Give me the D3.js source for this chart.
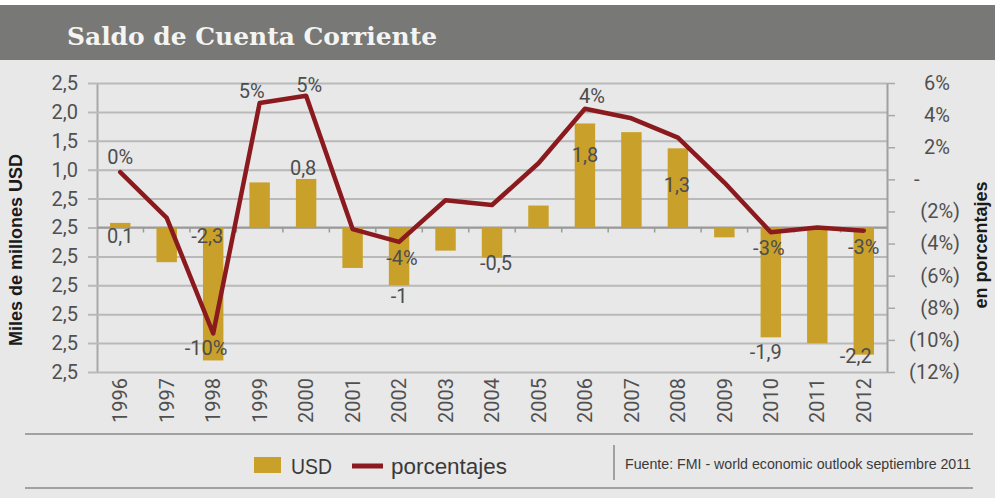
<!DOCTYPE html>
<html>
<head>
<meta charset="utf-8">
<script src="https://cdn.jsdelivr.net/npm/d3@7"></script>
<style>
  body { margin: 0; background: #fff; }
  svg text { font-family: Roboto, "Liberation Sans", sans-serif; }
</style>
</head>
<body>
<svg id="chart"></svg>
<script>
// datos
var years = ["1996","1997","1998","1999","2000","2001","2002","2003","2004","2005","2006","2007","2008","2009","2010","2011","2012"];
var usd = [0.08, -0.6, -2.3, 0.78, 0.84, -0.7, -1.0, -0.4, -0.52, 0.38, 1.8, 1.65, 1.37, -0.17, -1.9, -2.0, -2.2];
var porcentajes = [0.45, -2.4, -9.6, 4.75, 5.2, -3.1, -3.9, -1.3, -1.6, 1.0, 4.4, 3.8, 2.6, -0.2, -3.3, -3.0, -3.2];

var leftTicks = [2.5, 2.0, 1.5, 1.0, 0.5, 0, -0.5, -1.0, -1.5, -2.0, -2.5];
var leftTickLabels = ["2,5","2,0","1,5","1,0","2,5","2,5","2,5","2,5","2,5","2,5","2,5"];
var rightTicks = [6, 4, 2, 0, -2, -4, -6, -8, -10, -12];
var rightTickLabels = ["6%","4%","2%","-","(2%)","(4%)","(6%)","(8%)","(10%)","(12%)"];

var usdLabelYears = ["1996","1998","2000","2002","2004","2006","2008","2010","2012"];
var usdLabelText = ["0,1","-2,3","0,8","-1","-0,5","1,8","1,3","-1,9","-2,2"];
var pctLabelYears = ["1996","1998","1999","2000","2002","2006","2010","2012"];
var pctLabelText = ["0%","-10%","5%","5%","-4%","4%","-3%","-3%"];

// label placement (offsets from the mark)
var usdLabelPos = {
  "1996": {dx: 0, base: "zero", dy: 15},
  "1998": {dx: -6, base: "zero", dy: 15},
  "2000": {dx: -3, base: "value", dy: -4},
  "2002": {dx: 0, base: "value", dy: 18},
  "2004": {dx: 4, base: "value", dy: 12},
  "2006": {dx: 0, base: "value", dy: 39},
  "2008": {dx: -1, base: "value", dy: 44},
  "2010": {dx: -5, base: "value", dy: 22},
  "2012": {dx: -8, base: "value", dy: 8}
};
var pctLabelPos = {
  "1996": {dx: 0, dy: -8},
  "1998": {dx: -7, dy: 22},
  "1999": {dx: -8, dy: -5},
  "2000": {dx: 3, dy: -4},
  "2002": {dx: 3, dy: 23},
  "2006": {dx: 7, dy: -6},
  "2010": {dx: -2, dy: 23},
  "2012": {dx: 0, dy: 23}
};

var width = 1003, height = 498;
var plotLeft = 97, plotRight = 887, plotTop = 83, plotBottom = 372;

var svg = d3.select("#chart")
  .attr("width", width)
  .attr("height", height);

// fondo
svg.append("rect").attr("x", 0).attr("y", 5).attr("width", 995).attr("height", height - 5)
  .attr("fill", "#e8e8e8");
svg.append("rect").attr("x", 0).attr("y", 5).attr("width", 995).attr("height", 55)
  .attr("fill", "#787876");
svg.append("text")
  .attr("x", 67).attr("y", 45)
  .attr("textLength", 370).attr("lengthAdjust", "spacingAndGlyphs")
  .style("font-family", "'DejaVu Serif', 'Liberation Serif', serif")
  .style("font-weight", "bold")
  .style("font-size", "25px")
  .attr("fill", "#f4f4f2")
  .text("Saldo de Cuenta Corriente");

var x = d3.scaleBand().domain(years).range([plotLeft, plotRight]).padding(0);
var yL = d3.scaleLinear().domain([-2.5, 2.5]).range([plotBottom, plotTop]);
var yR = d3.scaleLinear().domain([-12, 6]).range([plotBottom, plotTop]);
var barW = x.bandwidth() * 0.44;

// eje izquierdo + grid
var gl = svg.append("g")
  .attr("transform", `translate(${plotLeft},0)`)
  .call(d3.axisLeft(yL)
    .tickValues(leftTicks)
    .tickFormat((d, i) => leftTickLabels[i])
    .tickSizeInner(-(plotRight - plotLeft))
    .tickSizeOuter(0)
    .tickPadding(19));
gl.select(".domain").attr("stroke", "#a8a8a8").attr("stroke-width", 2);
gl.selectAll(".tick line").attr("x1", -9).attr("stroke", "#b9b9b9").attr("stroke-width", 2);
gl.selectAll(".tick text")
  .attr("fill", "#505050")
  .style("font-size", "20px");

// eje derecho
var gr = svg.append("g")
  .attr("transform", `translate(${plotRight},0)`)
  .call(d3.axisRight(yR)
    .tickValues(rightTicks)
    .tickFormat((d, i) => rightTickLabels[i])
    .tickSizeInner(8)
    .tickSizeOuter(0)
    .tickPadding(10));
gr.select(".domain").attr("stroke", "#a0a0a0").attr("stroke-width", 2);
gr.selectAll(".tick line").attr("stroke", "#a8a8a8").attr("stroke-width", 1.5);
gr.selectAll(".tick text")
  .attr("fill", "#505050")
  .style("font-size", "20px")
  .attr("text-anchor", d => d === 0 ? "start" : "end")
  .attr("x", d => d > 0 ? 63 : (d === 0 ? 27 : 73));

// linea cero con marcas
svg.append("line")
  .attr("x1", plotLeft).attr("x2", plotRight)
  .attr("y1", yL(0)).attr("y2", yL(0))
  .attr("stroke", "#9a9a9a").attr("stroke-width", 2);
svg.append("g").selectAll("line")
  .data(years.slice(1))
  .join("line")
  .attr("x1", d => x(d)).attr("x2", d => x(d))
  .attr("y1", yL(0)).attr("y2", yL(0) + 5)
  .attr("stroke", "#9a9a9a").attr("stroke-width", 1.5);

// barras
svg.append("g").selectAll("rect")
  .data(years.map((d, i) => [d, usd[i]]))
  .join("rect")
  .attr("x", d => x(d[0]) + x.bandwidth() / 2 - barW / 2)
  .attr("y", d => Math.min(yL(d[1]), yL(0)))
  .attr("width", barW)
  .attr("height", d => Math.abs(yL(d[1]) - yL(0)))
  .attr("fill", "#c9a12a");

// linea porcentajes
var line = d3.line()
  .x((d, i) => x(years[i]) + x.bandwidth() / 2)
  .y(d => yR(d));
svg.append("path")
  .datum(porcentajes)
  .attr("d", line)
  .attr("fill", "none")
  .attr("stroke", "#8b1a1e")
  .attr("stroke-width", 4.5)
  .attr("stroke-linejoin", "round")
  .attr("stroke-linecap", "round");

// etiquetas USD
svg.append("g").selectAll("text")
  .data(usdLabelYears)
  .join("text")
  .attr("x", d => x(d) + x.bandwidth() / 2 + usdLabelPos[d].dx)
  .attr("y", d => {
    var p = usdLabelPos[d];
    var v = usd[years.indexOf(d)];
    return (p.base === "zero" ? yL(0) : yL(v)) + p.dy;
  })
  .attr("text-anchor", "middle")
  .attr("fill", "#4d4d4d")
  .style("font-size", "20px")
  .text((d, i) => usdLabelText[i]);

// etiquetas porcentajes
svg.append("g").selectAll("text")
  .data(pctLabelYears)
  .join("text")
  .attr("x", d => x(d) + x.bandwidth() / 2 + pctLabelPos[d].dx)
  .attr("y", d => yR(porcentajes[years.indexOf(d)]) + pctLabelPos[d].dy)
  .attr("text-anchor", "middle")
  .attr("fill", "#4d4d4d")
  .style("font-size", "20px")
  .text((d, i) => pctLabelText[i]);

// eje x
var gx = svg.append("g")
  .attr("transform", `translate(0,${plotBottom})`)
  .call(d3.axisBottom(x).tickSize(0).tickPadding(0));
gx.select(".domain").remove();
gx.selectAll(".tick text")
  .attr("transform", "rotate(-90)")
  .attr("text-anchor", "end")
  .attr("x", -6)
  .attr("y", 0)
  .attr("dy", "0.36em")
  .attr("fill", "#505050")
  .style("font-size", "20px");

// titulos de ejes
svg.append("text")
  .attr("transform", "translate(22,250) rotate(-90)")
  .attr("text-anchor", "middle")
  .style("font-family", "'Liberation Sans', Arial, sans-serif")
  .style("font-weight", "bold")
  .style("font-size", "18px")
  .attr("fill", "#1a1a1a")
  .text("Miles de millones USD");
svg.append("text")
  .attr("transform", "translate(987,245) rotate(-90)")
  .attr("text-anchor", "middle")
  .style("font-family", "'Liberation Sans', Arial, sans-serif")
  .style("font-weight", "bold")
  .style("font-size", "18px")
  .attr("fill", "#1a1a1a")
  .text("en porcentajes");

// separadores
svg.append("line").attr("x1", 25).attr("x2", 973).attr("y1", 434).attr("y2", 434)
  .attr("stroke", "#8a8a8a").attr("stroke-width", 1.5);
svg.append("line").attr("x1", 25).attr("x2", 973).attr("y1", 488).attr("y2", 488)
  .attr("stroke", "#8a8a8a").attr("stroke-width", 1.5);
svg.append("line").attr("x1", 614).attr("x2", 614).attr("y1", 445).attr("y2", 480)
  .attr("stroke", "#8a8a8a").attr("stroke-width", 1.5);

// leyenda
var legend = svg.append("g");
legend.append("rect").attr("x", 254).attr("y", 457).attr("width", 27).attr("height", 16)
  .attr("fill", "#c9a12a");
legend.append("text").attr("x", 291).attr("y", 474)
  .attr("textLength", 41).attr("lengthAdjust", "spacingAndGlyphs")
  .style("font-family", "'Liberation Sans Narrow', 'Liberation Sans', sans-serif")
  .style("font-size", "22px").attr("fill", "#3a3a3a")
  .text("USD");
legend.append("line").attr("x1", 352).attr("x2", 383).attr("y1", 466).attr("y2", 466)
  .attr("stroke", "#8b1a1e").attr("stroke-width", 5);
legend.append("text").attr("x", 391).attr("y", 474)
  .attr("textLength", 116).attr("lengthAdjust", "spacingAndGlyphs")
  .style("font-family", "'Liberation Sans Narrow', 'Liberation Sans', sans-serif")
  .style("font-size", "22px").attr("fill", "#3a3a3a")
  .text("porcentajes");
svg.append("text").attr("x", 625).attr("y", 469)
  .attr("textLength", 346).attr("lengthAdjust", "spacingAndGlyphs")
  .style("font-family", "'Liberation Sans Narrow', 'Liberation Sans', sans-serif")
  .style("font-size", "14px").attr("fill", "#3a3a3a")
  .text("Fuente: FMI - world economic outlook septiembre 2011");
</script>
</body>
</html>
